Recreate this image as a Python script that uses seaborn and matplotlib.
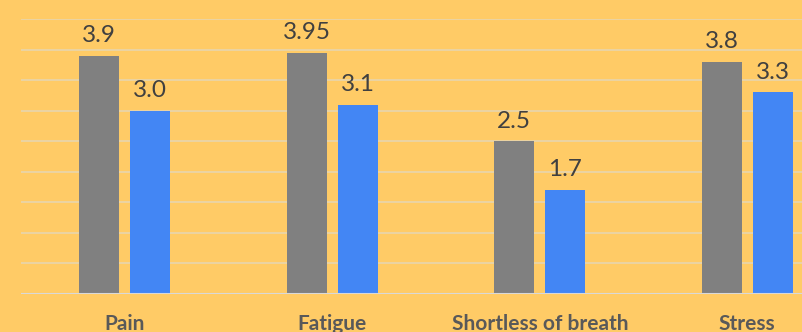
import matplotlib
matplotlib.use("Agg")
import matplotlib.pyplot as plt
import seaborn as sns
import pandas as pd

categories = ["Pain", "Fatigue", "Shortless of breath", "Stress"]
series_names = ["Before", "After"]
before_vals = [3.9, 3.95, 2.5, 3.8]
after_vals = [3.0, 3.1, 1.7, 3.3]
before_labels = ["3.9", "3.95", "2.5", "3.8"]
after_labels = ["3.0", "3.1", "1.7", "3.3"]

df = pd.DataFrame({
    "category": categories * 2,
    "series": [series_names[0]] * 4 + [series_names[1]] * 4,
    "value": before_vals + after_vals,
})

sns.set_theme(style="white")
plt.rcParams['font.family'] = ['Lato', 'DejaVu Sans']

bg = "#FFCB66"
fig = plt.figure(figsize=(8.02, 3.32), dpi=100, facecolor=bg)
W, H = 802, 332
left, right, top, base = 21, 21 + 4 * 207.5, 19, 294
ax = fig.add_axes([left / W, (H - base) / H, (right - left) / W, (base - top) / H])
ax.set_facecolor(bg)

sns.barplot(data=df, x="category", y="value", hue="series", order=categories,
            hue_order=series_names, palette=["#808080", "#4386F4"], saturation=1,
            width=0.4916, gap=0.216, linewidth=0, ax=ax, legend=False, zorder=3)

ax.set_xlim(-0.5, 3.5)
ax.set_ylim(0, 4.5)
ax.set_yticks([i * 0.5 for i in range(1, 10)])
ax.yaxis.grid(True, color="#E8D5AE", linewidth=1.2, zorder=0)
ax.set_axisbelow(True)
ax.axhline(0, color="#D9D9D9", linewidth=1.5, zorder=4)
for s in ax.spines.values():
    s.set_visible(False)
ax.tick_params(axis="y", left=False, labelleft=False)
ax.tick_params(axis="x", bottom=False, pad=8.5)
for lab in ax.get_xticklabels():
    lab.set_fontweight("bold")
    lab.set_fontsize(15)
    lab.set_color("#595959")
ax.set_xlabel("")
ax.set_ylabel("")

labels_sets = [before_labels, after_labels]
for cont, labs in zip(ax.containers, labels_sets):
    ax.bar_label(cont, labels=labs, padding=7, fontsize=17.5, color="#404040", clip_on=False)

fig.savefig("out.png", dpi=100, facecolor=bg)
